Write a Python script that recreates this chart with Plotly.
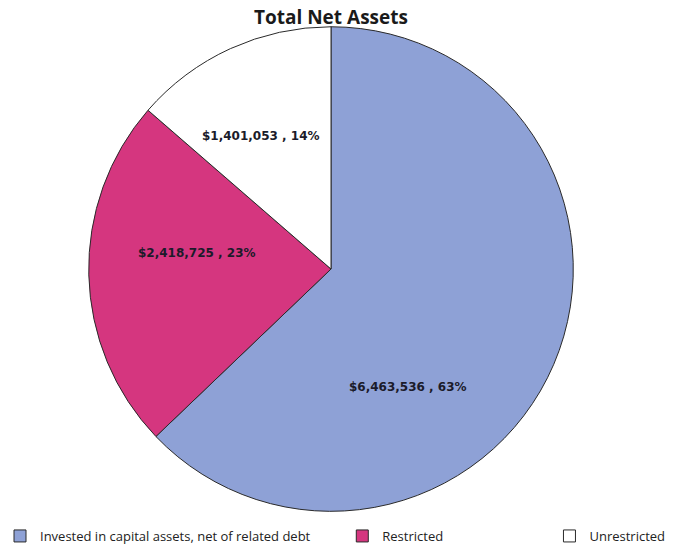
import plotly.graph_objects as go

labels = ["Invested in capital assets, net of related debt", "Restricted", "Unrestricted"]
values = [6463536, 2418725, 1401053]
pct_labels = ["63%", "23%", "14%"]
colors = ["#8EA1D6", "#D5367F", "#FFFFFF"]

# layout-only settings
label_pos = [(0.599, 0.2904), (0.290, 0.5372), (0.383, 0.7514)]
legend_pad = [8, 30, 0]  # non-breaking spaces after each legend entry for Excel-like spacing

W, H = 681, 551
NBSP = "\u00a0"
legend_names = [lab + NBSP * n for lab, n in zip(labels, legend_pad)]

fig = go.Figure(go.Pie(
    labels=legend_names,
    values=values,
    sort=False,
    direction="clockwise",
    rotation=0,
    marker=dict(colors=colors, line=dict(color="#2a2a2a", width=1)),
    textinfo="none",
    domain=dict(x=[86 / W, 576 / W], y=[35 / H, 524 / H]),
    hoverinfo="label+value+percent",
))

for v, p, (x, y) in zip(values, pct_labels, label_pos):
    fig.add_annotation(
        x=x, y=y, xref="paper", yref="paper", showarrow=False,
        text=f"<b>${v:,} , {p}</b>",
        font=dict(family="DejaVu Sans", size=12, color="#1b1b2a"),
        xanchor="center", yanchor="middle",
    )

fig.update_layout(
    width=W, height=H,
    paper_bgcolor="white",
    margin=dict(l=0, r=0, t=0, b=0),
    title=dict(text="<b>Total Net Assets</b>", x=0.486, xanchor="center", y=0.968, yanchor="middle",
               font=dict(family="Open Sans", size=19, color="#1a1a1a")),
    legend=dict(orientation="h", x=0.0, xanchor="left", y=0.045, yanchor="top",
                font=dict(family="Open Sans", size=13, color="#222222"),
                traceorder="normal", itemwidth=30),
    showlegend=True,
)

fig.write_html("out.html")
